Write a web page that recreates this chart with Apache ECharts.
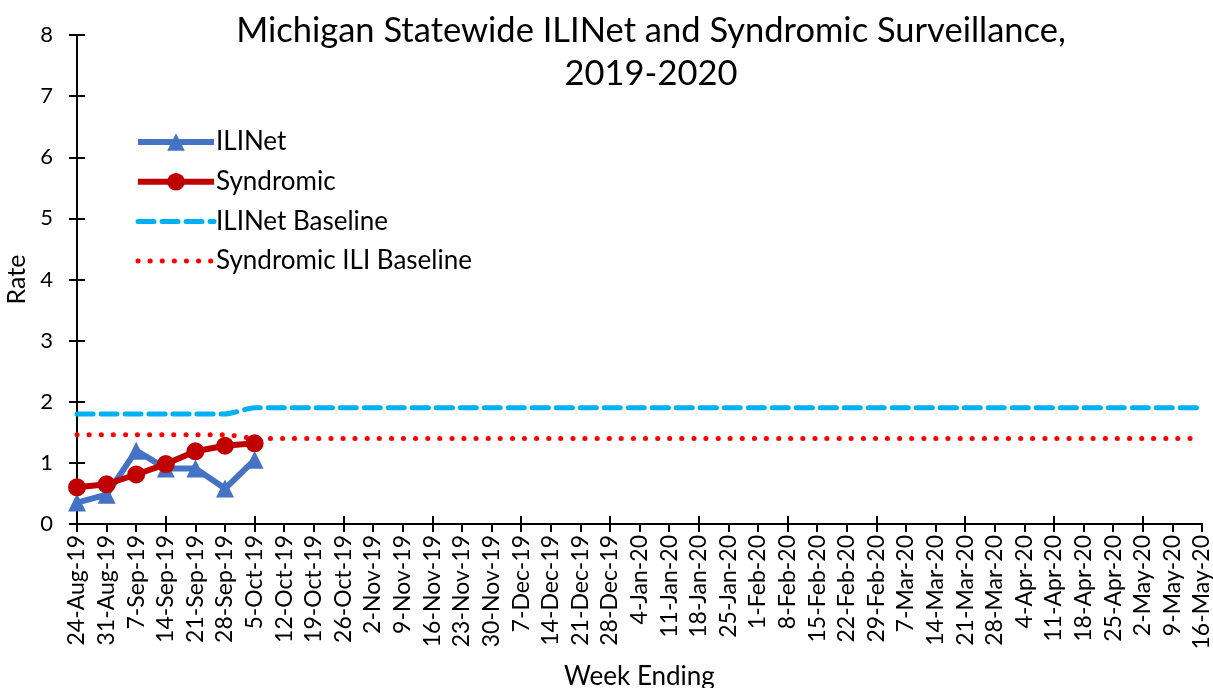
<!DOCTYPE html>
<html>
<head>
<meta charset="utf-8">
<script src="https://cdn.jsdelivr.net/npm/echarts@6/dist/echarts.min.js"></script>
<style>
  html, body { margin: 0; padding: 0; background: #fff; }
  #chart { width: 1213px; height: 688px; }
</style>
</head>
<body>
<div id="chart"></div>
<script>
// week ending dates
const weeks = [
  "24-Aug-19", "31-Aug-19", "7-Sep-19", "14-Sep-19", "21-Sep-19", "28-Sep-19",
  "5-Oct-19", "12-Oct-19", "19-Oct-19", "26-Oct-19", "2-Nov-19", "9-Nov-19",
  "16-Nov-19", "23-Nov-19", "30-Nov-19", "7-Dec-19", "14-Dec-19", "21-Dec-19",
  "28-Dec-19", "4-Jan-20", "11-Jan-20", "18-Jan-20", "25-Jan-20", "1-Feb-20",
  "8-Feb-20", "15-Feb-20", "22-Feb-20", "29-Feb-20", "7-Mar-20", "14-Mar-20",
  "21-Mar-20", "28-Mar-20", "4-Apr-20", "11-Apr-20", "18-Apr-20", "25-Apr-20",
  "2-May-20", "9-May-20", "16-May-20"
];

const iliNet = [0.35, 0.48, 1.2, 0.91, 0.91, 0.58, 1.05];
const syndromic = [0.6, 0.65, 0.81, 0.98, 1.19, 1.28, 1.32];

const iliNetBaseline = [
  1.8, 1.8, 1.8, 1.8, 1.8, 1.8,
  1.9, 1.9, 1.9, 1.9, 1.9, 1.9, 1.9, 1.9, 1.9, 1.9, 1.9, 1.9, 1.9, 1.9, 1.9,
  1.9, 1.9, 1.9, 1.9, 1.9, 1.9, 1.9, 1.9, 1.9, 1.9, 1.9, 1.9, 1.9, 1.9, 1.9,
  1.9, 1.9, 1.9
];
const syndromicBaseline = [
  1.46, 1.46, 1.46, 1.46, 1.46, 1.46,
  1.4, 1.4, 1.4, 1.4, 1.4, 1.4, 1.4, 1.4, 1.4, 1.4, 1.4, 1.4, 1.4, 1.4, 1.4,
  1.4, 1.4, 1.4, 1.4, 1.4, 1.4, 1.4, 1.4, 1.4, 1.4, 1.4, 1.4, 1.4, 1.4, 1.4,
  1.4, 1.4, 1.4
];

const yTicks = [0, 1, 2, 3, 4, 5, 6, 7, 8];

const font = "Lato, 'Open Sans', sans-serif";
const black = "#000";

// ticks in the reference cross the axis line, so a second axis adds the inner half
const tickStyle = { color: black, width: 2 };

const options = {
  animation: false,
  textStyle: { fontFamily: font },
  title: {
    text: "Michigan Statewide ILINet and Syndromic Surveillance,\n2019-2020",
    left: 646,
    textAlign: "center",
    top: 4,
    textStyle: {
      fontFamily: font,
      fontSize: 34.5,
      fontWeight: "normal",
      color: black,
      lineHeight: 43,
    },
  },
  grid: {
    left: 77,
    right: 11,
    top: 35,
    bottom: 164,
    outerBoundsMode: "none",
    containLabel: false,
  },
  legend: {
    orient: "vertical",
    left: 130,
    top: 124,
    itemWidth: 76,
    itemHeight: 22,
    itemGap: 13.7,
    textStyle: { fontSize: 26, lineHeight: 22, color: black, fontFamily: font, padding: [0, 0, 0, -3] },
    data: [
      { name: "ILINet", lineStyle: { width: 6 } },
      { name: "Syndromic", lineStyle: { width: 6 } },
      { name: "ILINet Baseline", lineStyle: { width: 5 }, itemStyle: { opacity: 0 } },
      { name: "Syndromic ILI Baseline", lineStyle: { width: 5 }, itemStyle: { opacity: 0 } },
    ],
  },
  xAxis: [
    {
      type: "category",
      data: weeks,
      boundaryGap: false,
      name: "Week Ending",
      nameLocation: "middle",
      nameGap: 140,
      nameTextStyle: { fontSize: 26, color: black, fontFamily: font },
      axisLine: { lineStyle: { color: black, width: 2 } },
      axisTick: { length: 8, lineStyle: tickStyle },
      axisLabel: {
        rotate: 90,
        interval: 0,
        fontSize: 23,
        color: black,
        margin: 11,
        fontFamily: font,
      },
    },
    {
      type: "category",
      data: weeks,
      boundaryGap: false,
      position: "bottom",
      axisLine: { show: false },
      axisTick: { inside: true, length: 8, lineStyle: tickStyle },
      axisLabel: { show: false },
    },
  ],
  yAxis: [
    {
      type: "value",
      min: yTicks[0],
      max: yTicks[yTicks.length - 1],
      interval: 1,
      name: "Rate",
      nameLocation: "middle",
      nameGap: 45,
      nameTextStyle: { fontSize: 25, color: black, fontFamily: font },
      splitLine: { show: false },
      axisLine: { show: true, lineStyle: { color: black, width: 2 } },
      axisTick: { show: true, length: 8, lineStyle: tickStyle },
      axisLabel: { fontSize: 22, color: black, margin: 24, fontFamily: font },
    },
    {
      type: "value",
      min: yTicks[0],
      max: yTicks[yTicks.length - 1],
      interval: 1,
      position: "left",
      splitLine: { show: false },
      axisLine: { show: false },
      axisTick: { show: true, inside: true, length: 8, lineStyle: tickStyle },
      axisLabel: { show: false },
    },
  ],
  series: [
    {
      name: "ILINet Baseline",
      type: "line",
      data: iliNetBaseline,
      symbol: "none",
      smooth: 0.2,
      z: 1,
      itemStyle: { color: "#00B0F0" },
      lineStyle: { color: "#00B0F0", width: 5, type: [16, 8], cap: "round" },
    },
    {
      name: "Syndromic ILI Baseline",
      type: "line",
      data: syndromicBaseline,
      symbol: "none",
      smooth: 0.2,
      z: 1,
      itemStyle: { color: "#FF0000" },
      lineStyle: { color: "#FF0000", width: 5, type: [0.1, 12], cap: "round" },
    },
    {
      name: "ILINet",
      type: "line",
      data: iliNet,
      symbol: "triangle",
      symbolSize: 18,
      z: 3,
      itemStyle: { color: "#4472C4" },
      lineStyle: { color: "#4472C4", width: 6 },
    },
    {
      name: "Syndromic",
      type: "line",
      data: syndromic,
      symbol: "circle",
      symbolSize: 18,
      z: 4,
      itemStyle: { color: "#C00000" },
      lineStyle: { color: "#C00000", width: 6 },
    },
  ],
};

const chart = echarts.init(document.getElementById("chart"));
chart.setOption(options);
</script>
</body>
</html>
